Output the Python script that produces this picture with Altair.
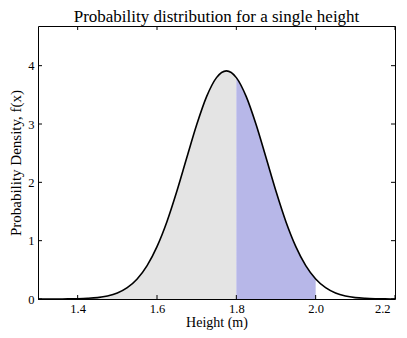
import altair as alt
import pandas as pd

# Curve (height in m, density)
heights = [1.300, 1.325, 1.350, 1.375, 1.400, 1.425, 1.450, 1.475, 1.500, 1.525,
           1.550, 1.575, 1.600, 1.625, 1.650, 1.675, 1.700, 1.725, 1.750, 1.775,
           1.800, 1.825, 1.850, 1.875, 1.900, 1.925, 1.950, 1.975, 2.000, 2.025,
           2.050, 2.075, 2.100, 2.125, 2.150, 2.175, 2.200]
density = [0.0001, 0.0002, 0.0007, 0.0018, 0.0045, 0.011, 0.024, 0.052, 0.103, 0.194,
           0.343, 0.572, 0.898, 1.325, 1.846, 2.420, 2.986, 3.469, 3.795, 3.911,
           3.795, 3.469, 2.986, 2.420, 1.846, 1.325, 0.898, 0.572, 0.343, 0.194,
           0.103, 0.052, 0.024, 0.011, 0.0045, 0.0018, 0.0007]

x_ticks = [1.4, 1.6, 1.8, 2.0, 2.2]
y_ticks = [0, 1, 2, 3, 4]
x_domain = [1.3, 2.2]
y_domain = [0, 4.68]
grey_end = 1.8
blue_end = 2.0

W, H = 357, 273
TK = 4
FONT = "Liberation Serif"
XT = "Height (m)"
YT = "Probability Density, f(x)"

df = pd.DataFrame({"x": heights, "y": density})
xt = pd.DataFrame({"t": x_ticks})
yt = pd.DataFrame({"t": y_ticks})

xscale = alt.Scale(domain=x_domain, nice=False, zero=False)
yscale = alt.Scale(domain=y_domain, nice=False)

xaxis = alt.Axis(values=x_ticks, format=".1f", title=XT,
                 ticks=False, domain=False, grid=False,
                 labelPadding=3, titlePadding=1, titleFontSize=14,
                 labelFlush=True, labelFlushOffset=-5)
yaxis = alt.Axis(values=y_ticks, format="d", title=YT,
                 ticks=False, domain=False, grid=False, labelFlush=False,
                 labelPadding=4, titlePadding=4)

base = alt.Chart(df)
grey = base.transform_filter(f"datum.x <= {grey_end}").mark_area(
    color="#e4e4e4", interpolate="monotone").encode(
    x=alt.X("x:Q", scale=xscale, axis=xaxis, title=XT),
    y=alt.Y("y:Q", scale=yscale, axis=yaxis, title=YT))
blue = base.transform_filter(f"datum.x >= {grey_end} && datum.x <= {blue_end}").mark_area(
    color="#b7b7e8", interpolate="monotone").encode(
    x=alt.X("x:Q", title=XT), y=alt.Y("y:Q", title=YT))
line = base.mark_line(color="black", strokeWidth=1.6, interpolate="monotone").encode(
    x=alt.X("x:Q", title=XT), y=alt.Y("y:Q", title=YT))

tx = alt.X("t:Q", title=XT)
ty = alt.Y("t:Q", title=YT)
bt = alt.Chart(xt).mark_rule(color="black").encode(x=tx, y=alt.value(H), y2=alt.value(H - TK))
tt = alt.Chart(xt).mark_rule(color="black").encode(x=tx, y=alt.value(0), y2=alt.value(TK))
lt = alt.Chart(yt).mark_rule(color="black").encode(y=ty, x=alt.value(0), x2=alt.value(TK))
rt = alt.Chart(yt).mark_rule(color="black").encode(y=ty, x=alt.value(W), x2=alt.value(W - TK))

chart = alt.layer(grey, blue, line, bt, tt, lt, rt).properties(
    width=W, height=H,
    title=alt.TitleParams("Probability distribution for a single height",
                          font=FONT, fontSize=17, fontWeight="normal", color="black", offset=0),
    autosize=alt.AutoSizeParams(type="none"),
    padding={"left": 30, "top": 18, "right": 4, "bottom": 31},
).configure_view(stroke="black", strokeWidth=1).configure_axis(
    labelFont=FONT, titleFont=FONT, labelFontSize=12.5, titleFontSize=15,
    labelColor="black", titleColor="black", titleFontWeight="normal"
)

chart.save("out.html", embed_options={"renderer": "svg", "actions": False})
